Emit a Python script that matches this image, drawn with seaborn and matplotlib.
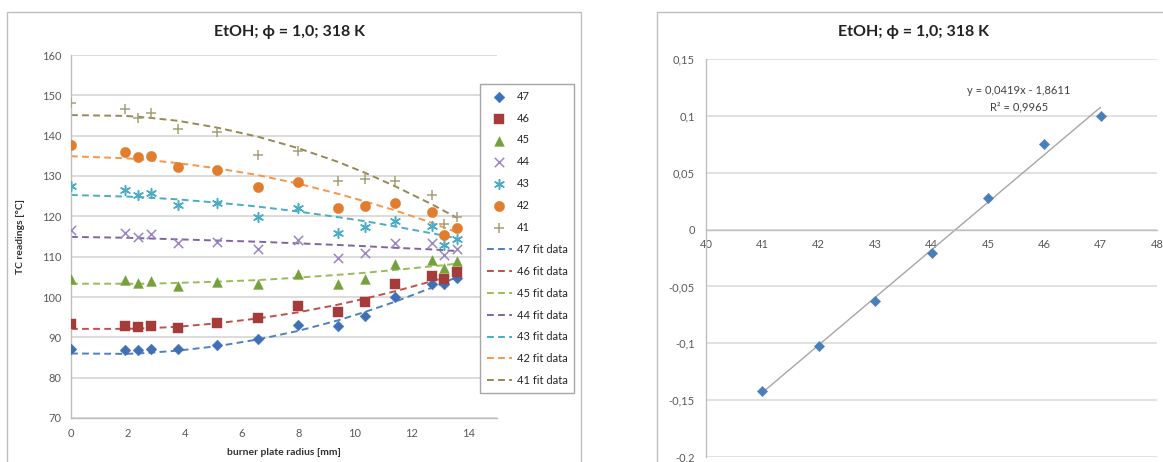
import numpy as np
import pandas as pd
import seaborn as sns
import matplotlib.pyplot as plt
from matplotlib.patches import Rectangle
from matplotlib.ticker import FuncFormatter, MultipleLocator

sns.set_theme(style="white")
plt.rcParams['font.family'] = ['Lato', 'DejaVu Sans']

# burner plate radius [mm]
radius = [0, 1.9, 2.35, 2.8, 3.75, 5.15, 6.6, 8.0, 9.4, 10.35, 11.4, 12.7, 13.15, 13.6]

# TC readings [°C] per series
tc_47 = [87.0, 86.8, 86.8, 87.1, 87.2, 88.2, 89.7, 93.0, 92.8, 95.2, 100.0, 103.1, 103.3, 104.6]
tc_46 = [93.2, 92.9, 92.6, 92.8, 92.3, 93.6, 94.8, 97.8, 96.3, 98.7, 103.2, 105.2, 104.4, 106.3]
tc_45 = [104.5, 104.2, 103.5, 104.0, 102.8, 103.6, 103.3, 105.8, 103.1, 104.5, 108.3, 109.1, 107.3, 108.9]
tc_44 = [116.7, 115.8, 114.9, 115.6, 113.3, 113.6, 112.0, 114.1, 109.7, 111.0, 113.5, 113.3, 110.4, 111.8]
tc_43 = [127.5, 126.5, 125.3, 125.9, 122.8, 123.4, 119.9, 122.1, 115.9, 117.4, 118.9, 117.6, 113.0, 114.5]
tc_42 = [137.8, 135.9, 134.6, 134.9, 132.2, 131.6, 127.3, 128.6, 122.1, 122.6, 123.4, 121.1, 115.3, 117.0]
tc_41 = [148.0, 146.5, 144.3, 145.5, 141.6, 140.8, 135.2, 136.3, 128.7, 129.2, 128.8, 125.3, 118.2, 119.9]

# fit data, read at the same radii
fit_47 = [86.0, 85.9, 86.0, 86.2, 86.7, 87.8, 89.5, 91.6, 94.2, 96.3, 98.8, 102.3, 103.6, 105.0]
fit_46 = [92.1, 92.1, 92.2, 92.3, 92.6, 93.5, 94.7, 96.2, 98.1, 99.6, 101.4, 103.9, 104.8, 105.8]
fit_45 = [103.3, 103.3, 103.3, 103.3, 103.5, 103.8, 104.2, 104.8, 105.5, 106.0, 106.7, 107.6, 107.9, 108.3]
fit_44 = [114.9, 114.7, 114.6, 114.5, 114.3, 114.0, 113.7, 113.3, 112.9, 112.6, 112.2, 111.8, 111.6, 111.4]
fit_43 = [125.3, 124.9, 124.8, 124.6, 124.2, 123.4, 122.4, 121.2, 119.8, 118.8, 117.5, 115.8, 115.2, 114.5]
fit_42 = [134.9, 134.4, 134.2, 133.9, 133.2, 131.9, 130.2, 128.1, 125.6, 123.7, 121.5, 118.4, 117.2, 116.0]
fit_41 = [145.1, 144.9, 144.7, 144.4, 143.7, 142.0, 139.7, 136.9, 133.5, 130.8, 127.5, 123.0, 121.3, 119.6]

series_names = ['47', '46', '45', '44', '43', '42', '41']

# right chart
conc = [41, 42, 43, 44, 45, 46, 47]
slope_vals = [-0.142, -0.102, -0.063, -0.021, 0.028, 0.075, 0.100]

title = "EtOH; \u03d5 = 1,0; 318 K"

tc_data = [tc_47, tc_46, tc_45, tc_44, tc_43, tc_42, tc_41]
fit_data = [fit_47, fit_46, fit_45, fit_44, fit_43, fit_42, fit_41]
marker_colors = ['#3F6FB5', '#A63C3A', '#76A03D', '#9A86C0', '#4BACC6', '#E07D2E', '#A3A077']
line_colors = ['#4F81BD', '#C0504D', '#9BBB59', '#8064A2', '#4BACC6', '#F79646', '#948A54']
markers = ['D', 's', '^', 'x', (6, 2, 0), 'o', '+']
sizes = [30, 55, 50, 45, 50, 55, 55]

W, H = 1163, 462
fig = plt.figure(figsize=(W / 100, H / 100), dpi=100)
fig.patch.set_facecolor('white')

# chart frames
fig.patches.append(Rectangle((7 / W, -0.05), (581 - 7) / W, 1 - 12 / H + 0.05,
                             transform=fig.transFigure, fill=False, ec='#BFBFBF', lw=1))
fig.patches.append(Rectangle((657 / W, -0.05), (1175 - 657) / W, 1 - 12 / H + 0.05,
                             transform=fig.transFigure, fill=False, ec='#BFBFBF', lw=1))

tick_col = '#595959'
grid_col = '#D9D9D9'

# ---- left chart
ax1 = fig.add_axes([71 / W, 1 - 418 / H, (497 - 71) / W, (418 - 55) / H])
for name, vals, c, m, s in zip(series_names, tc_data, marker_colors, markers, sizes):
    lw = 1.1 if m in ('x', '+', (6, 2, 0)) else 0.3
    sns.scatterplot(x=radius, y=vals, marker=m, color=c, s=s, linewidth=lw,
                    edgecolor=c, label=name, ax=ax1, zorder=3)
for name, vals, c in zip(series_names, fit_data, line_colors):
    sns.lineplot(x=radius, y=vals, color=c, lw=1.4, linestyle=(0, (3.5, 2.2)),
                 label=name + ' fit data', ax=ax1, zorder=2)

ax1.set_xlim(0, 15)
ax1.set_ylim(70, 160)
ax1.set_xticks([0, 2, 4, 6, 8, 10, 12, 14])
ax1.yaxis.set_major_locator(MultipleLocator(10))
ax1.grid(axis='y', color=grid_col, lw=1.3)
ax1.grid(axis='x', visible=False)
for sp in ['top', 'right']:
    ax1.spines[sp].set_visible(False)
for sp in ['left', 'bottom']:
    ax1.spines[sp].set_color('#BFBFBF')
    ax1.spines[sp].set_linewidth(1)
ax1.tick_params(axis='both', direction='out', length=4, width=1, color='#BFBFBF',
                labelsize=8, labelcolor=tick_col, pad=3)
ax1.set_xlabel('burner plate radius [mm]', fontsize=7.5, fontweight='bold', color='#333333', labelpad=7)
ax1.set_ylabel('TC readings [°C]', fontsize=7.5, fontweight='bold', color='#333333', labelpad=12)
ax1.set_facecolor('white')

leg = ax1.legend(loc='upper left', bbox_to_anchor=(480 / W, 1 - 84 / H), bbox_transform=fig.transFigure,
                 fontsize=8, frameon=True, fancybox=False, framealpha=1, edgecolor='#A6A6A6',
                 handlelength=2.3, labelspacing=0.98, borderpad=0.6, handletextpad=0.4,
                 borderaxespad=0)
leg.get_frame().set_linewidth(1)
leg.set_zorder(10)

fig.text(290 / W, 1 - 32 / H, title, ha='center', va='center', fontsize=11.5,
         fontweight='bold', color='#222222')

# ---- right chart
ax2 = fig.add_axes([706 / W, 1 - 457 / H, (1157 - 706) / W, (457 - 59) / H])
sns.regplot(x=conc, y=slope_vals, ci=None, scatter=False, ax=ax2,
            line_kws=dict(color='#A6A6A6', lw=1))
sns.scatterplot(x=conc, y=slope_vals, marker='D', color='#4A7EBB', s=28,
                linewidth=0.3, edgecolor='#4A7EBB', ax=ax2, zorder=3)
ax2.set_xlim(40, 48)
ax2.set_ylim(-0.2, 0.15)
ax2.xaxis.set_major_locator(MultipleLocator(1))
ax2.yaxis.set_major_locator(MultipleLocator(0.05))
ax2.yaxis.set_major_formatter(FuncFormatter(lambda v, p: ('%g' % round(v, 2)).replace('.', ',')))
ax2.spines['bottom'].set_position(('data', 0))
for sp in ['top', 'right']:
    ax2.spines[sp].set_visible(False)
for sp in ['left', 'bottom']:
    ax2.spines[sp].set_color('#BFBFBF')
    ax2.spines[sp].set_linewidth(1)
ax2.grid(axis='y', color=grid_col, lw=1.1)
ax2.grid(axis='x', visible=False)
ax2.tick_params(axis='both', direction='out', length=4, width=1, color='#BFBFBF',
                labelsize=8, labelcolor=tick_col, pad=3)
ax2.tick_params(axis='y', length=0, pad=8)
ax2.text(45.55, 0.122, 'y = 0,0419x - 1,8611', ha='center', va='center', fontsize=8, color='#404040')
ax2.text(45.55, 0.108, 'R² = 0,9965', ha='center', va='center', fontsize=8, color='#404040')
ax2.set_facecolor('white')

fig.text(914 / W, 1 - 32 / H, title, ha='center', va='center', fontsize=11.5,
         fontweight='bold', color='#222222')

fig.savefig('out.png', dpi=100)
